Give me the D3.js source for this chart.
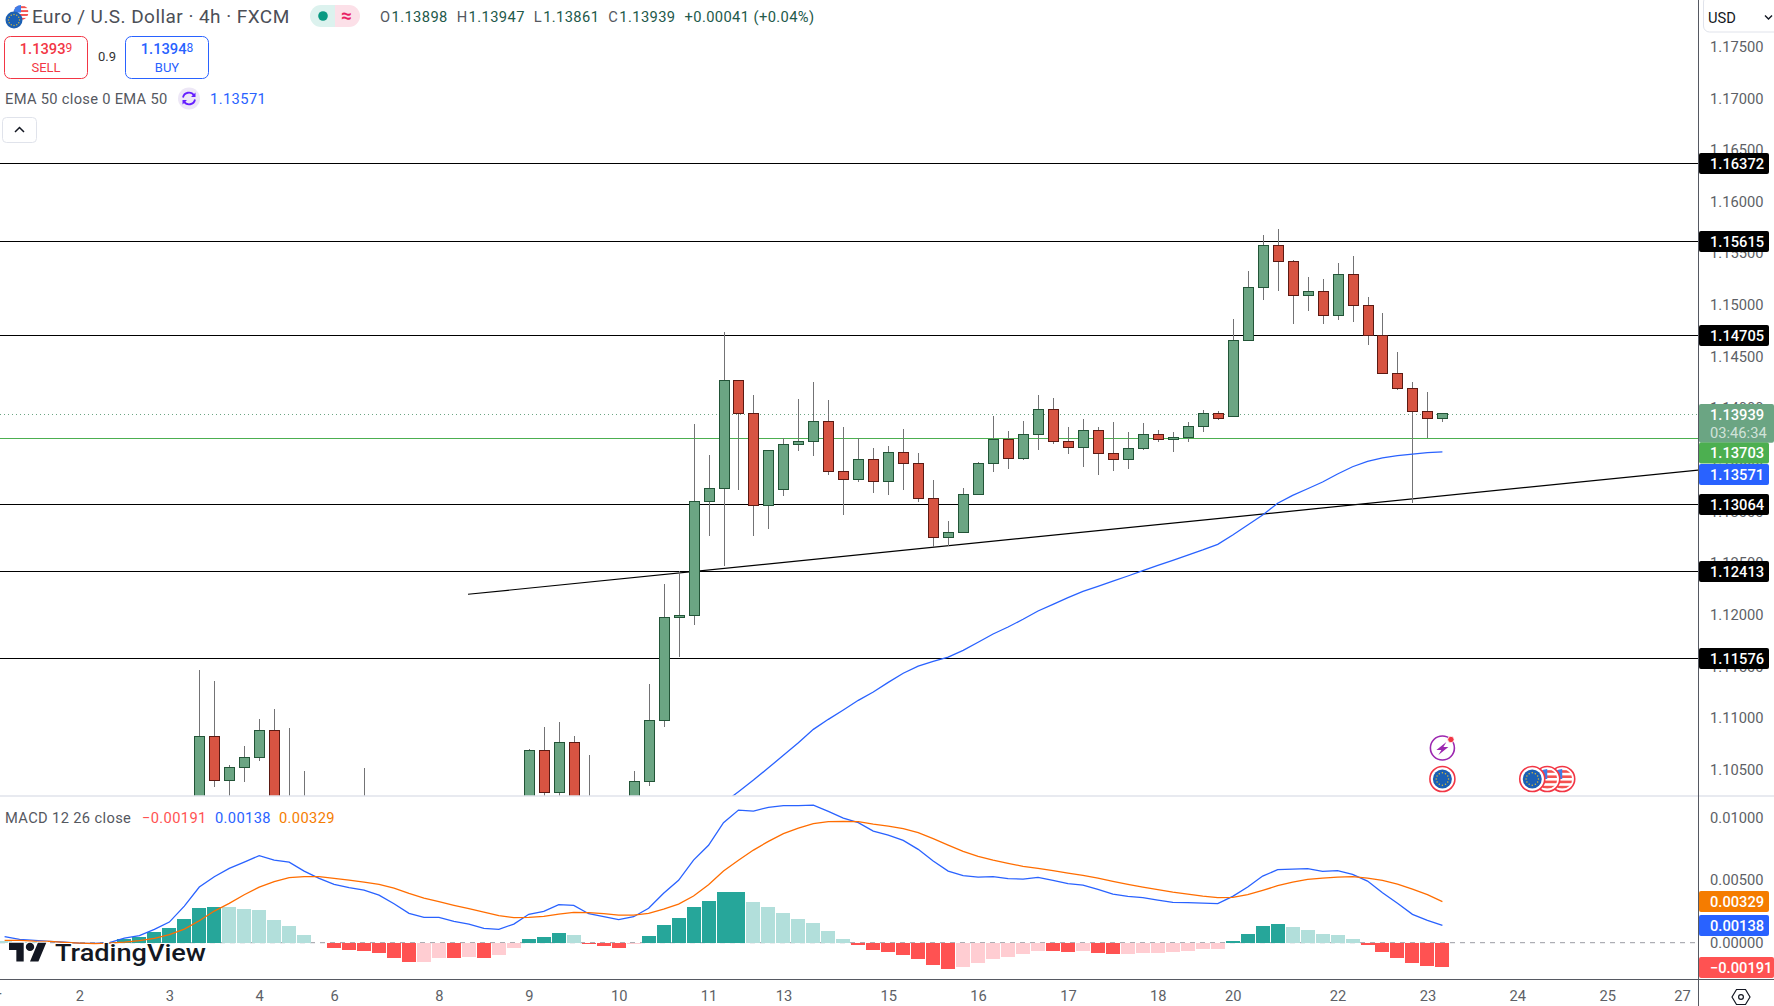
<!DOCTYPE html>
<html>
<head>
<meta charset="utf-8">
<title>Euro / U.S. Dollar 4h</title>
<script src="https://cdn.jsdelivr.net/npm/d3@7/dist/d3.min.js"></script>
<style>
  html, body { margin: 0; padding: 0; background: #fff; overflow: hidden; }
  svg { display: block; }
  text { font-family: Roboto, "Open Sans", sans-serif; }
</style>
</head>
<body>
<div id="chart"></div>
<script>
// ── Candles: bar number, then O/H/L/C per candle ─────────────────
// Bars 13-39 mostly sit below the pane, only their top ends show.
const candleBars = [13, 14, 15, 16, 17, 18, 19, 20, 24, 35, 36, 37, 38, 39, 42, 43, 44, 45, 46, 47, 48, 49, 50, 51, 52, 53, 54, 55, 56, 57, 58, 59, 60, 61, 62, 63, 64, 65, 66, 67, 68, 69, 70, 71, 72, 73, 74, 75, 76, 77, 78, 79, 80, 81, 82, 83, 84, 85, 86, 87, 88, 89, 90, 91, 92, 93, 94, 95, 96];
const opens = [1.09910, 1.10817, 1.10390, 1.10516, 1.10613, 1.10875, 1.10103, 1.10000, 1.09950, 1.10100, 1.10681, 1.10274, 1.10758, 1.10060, 1.10100, 1.10381, 1.10971, 1.11965, 1.11988, 1.13092, 1.13218, 1.14264, 1.13944, 1.13054, 1.13208, 1.13644, 1.13673, 1.13867, 1.13383, 1.13305, 1.13499, 1.13286, 1.13567, 1.13460, 1.13121, 1.12744, 1.12792, 1.13160, 1.13460, 1.13693, 1.13509, 1.13741, 1.13983, 1.13673, 1.13615, 1.13780, 1.13557, 1.13499, 1.13605, 1.13741, 1.13693, 1.13712, 1.13819, 1.13944, 1.13915, 1.14651, 1.15165, 1.15571, 1.15416, 1.15087, 1.15126, 1.14893, 1.15291, 1.14990, 1.14700, 1.14332, 1.14187, 1.13964, 1.13898];
const highs = [1.11459, 1.11352, 1.10536, 1.10723, 1.10984, 1.11081, 1.10897, 1.10480, 1.10509, 1.10694, 1.10907, 1.10955, 1.10819, 1.10635, 1.10480, 1.11323, 1.12291, 1.12417, 1.13841, 1.13541, 1.14732, 1.14264, 1.14122, 1.13586, 1.13702, 1.14083, 1.14248, 1.14073, 1.13812, 1.13702, 1.13608, 1.13628, 1.13792, 1.13560, 1.13299, 1.12901, 1.13221, 1.13470, 1.13918, 1.13773, 1.13870, 1.14122, 1.14093, 1.13812, 1.13889, 1.13812, 1.13860, 1.13763, 1.13848, 1.13783, 1.13763, 1.13860, 1.13976, 1.13967, 1.14858, 1.15322, 1.15671, 1.15729, 1.15429, 1.15264, 1.15245, 1.15400, 1.15468, 1.15071, 1.14916, 1.14538, 1.14248, 1.14151, 1.13947];
const lows = [1.09813, 1.10328, 1.10200, 1.10377, 1.10580, 1.10000, 1.09800, 1.09850, 1.09800, 1.10000, 1.10200, 1.10200, 1.09950, 1.09900, 1.10050, 1.10338, 1.10909, 1.11587, 1.11894, 1.12759, 1.12469, 1.13205, 1.12759, 1.12827, 1.13146, 1.13582, 1.13534, 1.13350, 1.12962, 1.13282, 1.13176, 1.13156, 1.13205, 1.13088, 1.12647, 1.12656, 1.12792, 1.13160, 1.13379, 1.13408, 1.13495, 1.13592, 1.13650, 1.13550, 1.13427, 1.13350, 1.13389, 1.13408, 1.13592, 1.13669, 1.13573, 1.13669, 1.13766, 1.13882, 1.13915, 1.14651, 1.15045, 1.15132, 1.14812, 1.14938, 1.14812, 1.14851, 1.14831, 1.14609, 1.14332, 1.14173, 1.13079, 1.13702, 1.13861];
const closes = [1.10817, 1.10390, 1.10516, 1.10613, 1.10875, 1.10103, 1.10000, 1.10060, 1.10050, 1.10681, 1.10274, 1.10758, 1.10060, 1.10100, 1.10381, 1.10971, 1.11969, 1.11988, 1.13092, 1.13218, 1.14264, 1.13944, 1.13054, 1.13586, 1.13644, 1.13673, 1.13867, 1.13383, 1.13305, 1.13499, 1.13286, 1.13567, 1.13460, 1.13121, 1.12744, 1.12792, 1.13160, 1.13460, 1.13693, 1.13509, 1.13741, 1.13983, 1.13673, 1.13615, 1.13780, 1.13557, 1.13499, 1.13605, 1.13741, 1.13693, 1.13712, 1.13819, 1.13944, 1.13896, 1.14651, 1.15165, 1.15571, 1.15416, 1.15087, 1.15126, 1.14893, 1.15291, 1.14990, 1.14700, 1.14332, 1.14187, 1.13964, 1.13896, 1.13939];

// ── EMA 50, from bar 48 to the last bar ──────────────────────────
const emaFirstBar = 48;
const emaValues = [1.10171, 1.10280, 1.10393, 1.10512, 1.10632, 1.10755, 1.10884, 1.10981, 1.11071, 1.11165, 1.11246, 1.11339, 1.11427, 1.11497, 1.11543, 1.11584, 1.11649, 1.11727, 1.11807, 1.11875, 1.11950, 1.12030, 1.12095, 1.12159, 1.12221, 1.12269, 1.12320, 1.12369, 1.12420, 1.12472, 1.12521, 1.12572, 1.12621, 1.12676, 1.12766, 1.12863, 1.12960, 1.13073, 1.13150, 1.13214, 1.13279, 1.13357, 1.13427, 1.13480, 1.13512, 1.13534, 1.13550, 1.13563, 1.13571];

// ── Drawn levels ─────────────────────────────────────────────────
const levelPrices = [1.16372, 1.15615, 1.14705, 1.13064, 1.12413, 1.11576];
const trendBars = [30.94, 113.07];
const trendPrices = [1.12192, 1.13395];
const lastPrice = 1.13939;
const highLine = 1.13703;
const emaLast = 1.13571;

// ── MACD pane, one value per bar from bar 0 ──────────────────────
const macdHist = [0.00012, 0.00008, 0.00004, -0.00002, -0.00012, -0.00006, -0.00010, 0.00004, 0.00032, 0.00048, 0.00083, 0.00115, 0.00187, 0.00275, 0.00283, 0.00283, 0.00267, 0.00259, 0.00179, 0.00131, 0.00059, -0.00005, -0.00045, -0.00061, -0.00069, -0.00085, -0.00125, -0.00157, -0.00157, -0.00124, -0.00125, -0.00117, -0.00125, -0.00101, -0.00045, 0.00027, 0.00043, 0.00075, 0.00059, -0.00013, -0.00029, -0.00045, -0.00013, 0.00051, 0.00139, 0.00195, 0.00283, 0.00331, 0.00403, 0.00404, 0.00323, 0.00283, 0.00235, 0.00187, 0.00155, 0.00091, 0.00027, -0.00021, -0.00061, -0.00077, -0.00101, -0.00133, -0.00181, -0.00213, -0.00197, -0.00165, -0.00133, -0.00117, -0.00093, -0.00069, -0.00070, -0.00077, -0.00069, -0.00085, -0.00093, -0.00093, -0.00085, -0.00085, -0.00077, -0.00069, -0.00053, -0.00053, 0.00011, 0.00067, 0.00131, 0.00147, 0.00123, 0.00099, 0.00067, 0.00059, 0.00027, -0.00021, -0.00077, -0.00125, -0.00165, -0.00189, -0.00191];
const macdLine = [0.00048, 0.00027, 0.00019, 0.00011, 0.00005, -0.00003, -0.00005, 0, 0.00037, 0.00056, 0.00107, 0.00165, 0.00293, 0.00445, 0.00528, 0.00595, 0.00645, 0.00696, 0.00661, 0.00645, 0.00573, 0.00515, 0.00467, 0.00440, 0.00421, 0.00381, 0.00312, 0.00235, 0.00203, 0.00203, 0.00171, 0.00149, 0.00115, 0.00107, 0.00149, 0.00227, 0.00251, 0.00304, 0.00299, 0.00232, 0.00208, 0.00184, 0.00208, 0.00275, 0.00395, 0.00499, 0.00661, 0.00779, 0.00960, 0.01061, 0.01053, 0.01083, 0.01096, 0.01096, 0.01101, 0.01051, 0.00997, 0.00960, 0.00893, 0.00861, 0.00819, 0.00747, 0.00653, 0.00573, 0.00536, 0.00525, 0.00528, 0.00512, 0.00509, 0.00523, 0.00499, 0.00472, 0.00461, 0.00427, 0.00389, 0.00371, 0.00360, 0.00341, 0.00323, 0.00320, 0.00317, 0.00312, 0.00371, 0.00445, 0.00533, 0.00584, 0.00589, 0.00592, 0.00571, 0.00576, 0.00547, 0.00493, 0.00400, 0.00315, 0.00227, 0.00179, 0.00138];
const signalLine = [0.00019, 0.00019, 0.00013, 0.00011, 0.00003, -0.00003, -0.00008, -0.00003, 0.00005, 0.00016, 0.00035, 0.00064, 0.00109, 0.00176, 0.00253, 0.00315, 0.00384, 0.00445, 0.00488, 0.00520, 0.00528, 0.00528, 0.00515, 0.00501, 0.00485, 0.00467, 0.00437, 0.00395, 0.00357, 0.00328, 0.00299, 0.00272, 0.00245, 0.00216, 0.00200, 0.00203, 0.00211, 0.00229, 0.00243, 0.00240, 0.00232, 0.00221, 0.00221, 0.00235, 0.00269, 0.00309, 0.00373, 0.00464, 0.00573, 0.00659, 0.00741, 0.00811, 0.00872, 0.00917, 0.00952, 0.00968, 0.00971, 0.00968, 0.00949, 0.00933, 0.00912, 0.00880, 0.00832, 0.00781, 0.00731, 0.00691, 0.00661, 0.00635, 0.00611, 0.00595, 0.00576, 0.00557, 0.00539, 0.00517, 0.00491, 0.00467, 0.00445, 0.00424, 0.00405, 0.00389, 0.00373, 0.00360, 0.00363, 0.00384, 0.00419, 0.00456, 0.00485, 0.00507, 0.00517, 0.00525, 0.00528, 0.00517, 0.00499, 0.00469, 0.00429, 0.00384, 0.00329];

// ── Axis ticks ───────────────────────────────────────────────────
const priceTicks = [1.105, 1.11, 1.115, 1.12, 1.125, 1.13, 1.135, 1.14, 1.145, 1.15, 1.155, 1.16, 1.165, 1.17, 1.175];
const macdTicks = [0, 0.005, 0.01];
const timeTickBars = [-1, 5, 11, 17, 22, 29, 35, 41, 47, 52, 59, 65, 71, 77, 82, 89, 95, 101, 107, 112];
const timeTickLabels = ['Apr', '2', '3', '4', '6', '8', '9', '10', '11', '13', '15', '16', '17', '18', '20', '22', '23', '24', '25', '27'];

// ── Event markers (bar numbers) ──────────────────────────────────
const usEventBars = [104, 103];
const euEventBars = [96, 102];
const flashEventBar = 96;

// ── Colours ──────────────────────────────────────────────────────
const C = {
  up: '#6ba583', upBorder: '#225437',
  down: '#d75442', downBorder: '#5b1a13',
  wick: '#737375',
  blue: '#2962ff', orange: '#ff6d00', red: '#f23645',
  macdRed: '#ff5252', macdRedPale: '#ffcdd2', teal: '#26a69a', tealPale: '#b2dfdb',
  axisText: '#5d5f66', legendText: '#55585f', line: '#565962', pane: '#e0e3eb',
};

// ── Layout ───────────────────────────────────────────────────────
const W = 1774, H = 1006;
const AXIS_X = 1698, PANE_BOTTOM = 796, MACD_BOTTOM = 979;

const svg = d3.select('#chart').append('svg')
  .attr('width', W).attr('height', H).attr('viewBox', `0 0 ${W} ${H}`);
svg.append('rect').attr('width', W).attr('height', H).attr('fill', '#fff');

const defs = svg.append('defs');
defs.append('clipPath').attr('id', 'price-clip').append('rect')
  .attr('width', AXIS_X).attr('height', PANE_BOTTOM);
defs.append('clipPath').attr('id', 'macd-clip').append('rect')
  .attr('y', PANE_BOTTOM).attr('width', AXIS_X).attr('height', MACD_BOTTOM - PANE_BOTTOM);

// Scales
const x = d3.scaleLinear().domain([0, 96]).range([4.6, 1442.4]);
const y = d3.scaleLinear().domain([1.15, 1.105]).range([304.3, 769]);
const yM = d3.scaleLinear().domain([0, 0.01]).range([942.7, 817.7]);

// ── Level lines, trend line, price lines (behind the candles) ────
const pricePane = svg.append('g').attr('clip-path', 'url(#price-clip)');

pricePane.selectAll('line.level').data(levelPrices).join('line')
  .attr('class', 'level')
  .attr('x1', 0).attr('x2', AXIS_X)
  .attr('y1', d => Math.round(y(d)) + 0.5).attr('y2', d => Math.round(y(d)) + 0.5)
  .attr('stroke', '#000').attr('stroke-width', 1.2);

pricePane.append('line')
  .attr('x1', x(trendBars[0])).attr('y1', y(trendPrices[0]))
  .attr('x2', x(trendBars[1])).attr('y2', y(trendPrices[1]))
  .attr('stroke', '#000').attr('stroke-width', 1.2);

pricePane.append('line')
  .attr('x1', 0).attr('x2', AXIS_X)
  .attr('y1', Math.round(y(lastPrice)) + 0.5).attr('y2', Math.round(y(lastPrice)) + 0.5)
  .attr('stroke', C.up).attr('stroke-width', 1).attr('stroke-dasharray', '1 3');

pricePane.append('line')
  .attr('x1', 0).attr('x2', AXIS_X)
  .attr('y1', Math.round(y(highLine)) + 0.5).attr('y2', Math.round(y(highLine)) + 0.5)
  .attr('stroke', '#4caf50').attr('stroke-width', 1);

// ── Candles ──────────────────────────────────────────────────────
const candles = pricePane.selectAll('g.candle').data(d3.range(candleBars.length)).join('g')
  .attr('class', 'candle')
  .attr('shape-rendering', 'crispEdges');

candles.append('line')
  .attr('x1', d => Math.round(x(candleBars[d])) + 0.5)
  .attr('x2', d => Math.round(x(candleBars[d])) + 0.5)
  .attr('y1', d => y(highs[d])).attr('y2', d => y(lows[d]))
  .attr('stroke', C.wick).attr('stroke-width', 1);

candles.append('rect')
  .attr('x', d => Math.round(x(candleBars[d])) - 4.5)
  .attr('width', 10)
  .attr('y', d => y(Math.max(opens[d], closes[d])))
  .attr('height', d => Math.abs(y(opens[d]) - y(closes[d])))
  .attr('fill', d => closes[d] >= opens[d] ? C.up : C.down)
  .attr('stroke', d => closes[d] >= opens[d] ? C.upBorder : C.downBorder)
  .attr('stroke-width', 1);

// ── EMA ──────────────────────────────────────────────────────────
pricePane.append('path')
  .attr('fill', 'none').attr('stroke', C.blue).attr('stroke-width', 1.3)
  .attr('d', d3.line().x((d, i) => x(emaFirstBar + i)).y(d => y(d))(emaValues));

// ── MACD pane ────────────────────────────────────────────────────
const macdPane = svg.append('g').attr('clip-path', 'url(#macd-clip)');

macdPane.append('line')
  .attr('x1', 0).attr('x2', AXIS_X)
  .attr('y1', yM(0)).attr('y2', yM(0))
  .attr('stroke', '#9a9ca3').attr('stroke-width', 1).attr('stroke-dasharray', '5 5');

function histColor(d, i) {
  const prev = i > 0 ? macdHist[i - 1] : d;
  if (d >= 0) return d > prev ? C.teal : C.tealPale;
  return d < prev ? C.macdRed : C.macdRedPale;
}

macdPane.selectAll('rect.hist').data(macdHist).join('rect')
  .attr('class', 'hist')
  .attr('shape-rendering', 'crispEdges')
  .attr('x', (d, i) => Math.round(x(i)) - 7)
  .attr('width', 14)
  .attr('y', d => Math.min(yM(d), yM(0)))
  .attr('height', d => Math.abs(yM(d) - yM(0)))
  .attr('fill', histColor);

const macdPath = d3.line().x((d, i) => x(i)).y(d => yM(d));
macdPane.append('path').attr('fill', 'none').attr('stroke', C.blue).attr('stroke-width', 1.3)
  .attr('d', macdPath(macdLine));
macdPane.append('path').attr('fill', 'none').attr('stroke', C.orange).attr('stroke-width', 1.3)
  .attr('d', macdPath(signalLine));

// ── Event markers ────────────────────────────────────────────────
function ring(g, cx, cy) {
  g.append('circle').attr('cx', cx).attr('cy', cy).attr('r', 12.5)
    .attr('fill', '#fff').attr('stroke', C.red).attr('stroke-width', 1.6);
}

function euFlag(g, cx, cy, r) {
  g.append('circle').attr('cx', cx).attr('cy', cy).attr('r', r).attr('fill', '#1a5fb4');
  d3.range(12).forEach(k => {
    const a = k * Math.PI / 6;
    g.append('circle')
      .attr('cx', cx + Math.cos(a) * r * 0.65).attr('cy', cy + Math.sin(a) * r * 0.65)
      .attr('r', r * 0.08).attr('fill', '#d8b93a');
  });
}

function usFlag(g, cx, cy, r) {
  const id = `us-${Math.round(cx)}-${Math.round(cy)}`;
  defs.append('clipPath').attr('id', id).append('circle').attr('cx', cx).attr('cy', cy).attr('r', r);
  const f = g.append('g').attr('clip-path', `url(#${id})`);
  f.append('rect').attr('x', cx - r).attr('y', cy - r).attr('width', 2 * r).attr('height', 2 * r).attr('fill', '#fff');
  d3.range(4).forEach(k => {
    f.append('rect').attr('x', cx - r).attr('y', cy - r + 1.2 + k * r * 0.52)
      .attr('width', 2 * r).attr('height', r * 0.26).attr('fill', '#f4514f');
  });
  f.append('rect').attr('x', cx - r).attr('y', cy - r).attr('width', r).attr('height', r).attr('fill', '#3f7de8');
}

const events = svg.append('g');
const eventY = 779;
usEventBars.forEach(b => { ring(events, x(b), eventY); usFlag(events, x(b), eventY, 10); });
euEventBars.forEach(b => { ring(events, x(b), eventY); euFlag(events, x(b), eventY, 9.5); });

const flashX = x(flashEventBar), flashY = 748;
events.append('circle').attr('cx', flashX).attr('cy', flashY).attr('r', 12)
  .attr('fill', '#fff').attr('stroke', '#9c27b0').attr('stroke-width', 1.6);
events.append('path')
  .attr('transform', `translate(${flashX},${flashY})`)
  .attr('d', 'M4 -6 L-6 2 L-1 2 L-4 7 L6 -1 L1 -1 Z')
  .attr('fill', '#9c27b0');
events.append('circle').attr('cx', flashX + 8.5).attr('cy', flashY - 8.5).attr('r', 3.2)
  .attr('fill', C.red).attr('stroke', '#fff').attr('stroke-width', 0.8);

// ── Pane separator and axis frame ────────────────────────────────
svg.append('line').attr('x1', 0).attr('x2', W).attr('y1', PANE_BOTTOM).attr('y2', PANE_BOTTOM)
  .attr('stroke', C.pane).attr('stroke-width', 1.5);
svg.append('line').attr('x1', 0).attr('x2', W).attr('y1', MACD_BOTTOM + 0.5).attr('y2', MACD_BOTTOM + 0.5)
  .attr('stroke', C.line).attr('stroke-width', 1);
svg.append('line').attr('x1', AXIS_X + 0.5).attr('x2', AXIS_X + 0.5).attr('y1', 0).attr('y2', H)
  .attr('stroke', C.line).attr('stroke-width', 1);

// ── Axes ─────────────────────────────────────────────────────────
function styleAxis(g) {
  g.select('.domain').remove();
  g.selectAll('.tick line').remove();
  g.selectAll('text')
    .attr('font-family', 'Roboto, sans-serif')
    .attr('font-size', 14.7).attr('fill', C.axisText);
}

svg.append('g').attr('transform', `translate(${AXIS_X},0.6)`)
  .call(d3.axisRight(y).tickValues(priceTicks).tickFormat(d3.format('.5f')).tickSize(0).tickPadding(12))
  .call(styleAxis);

svg.append('g').attr('transform', `translate(${AXIS_X},0)`)
  .call(d3.axisRight(yM).tickValues(macdTicks).tickFormat(d3.format('.5f')).tickSize(0).tickPadding(12))
  .call(styleAxis);

svg.append('g').attr('transform', `translate(0,${MACD_BOTTOM + 6})`)
  .call(d3.axisBottom(x).tickValues(timeTickBars)
    .tickFormat(d => timeTickLabels[timeTickBars.indexOf(d)]).tickSize(0).tickPadding(6))
  .call(styleAxis);

// ── Price tags ───────────────────────────────────────────────────
function tag(cy, label, fill, opts = {}) {
  const h = opts.h || 21, w = opts.w || 70;
  svg.append('rect').attr('x', AXIS_X + 1).attr('y', cy - h / 2).attr('width', w).attr('height', h)
    .attr('rx', 2).attr('fill', fill);
  svg.append('text').attr('x', AXIS_X + 12).attr('y', cy).attr('dy', '0.35em')
    .attr('font-size', 14.7).attr('font-weight', 500).attr('fill', '#fff').text(label);
}

levelPrices.forEach(p => tag(Math.round(y(p)) + 0.5, d3.format('.5f')(p), '#000'));

// last price tag holds the price and the countdown
svg.append('rect').attr('x', AXIS_X + 1).attr('y', 404).attr('width', 75).attr('height', 38.7)
  .attr('rx', 2).attr('fill', C.up);
svg.append('text').attr('x', AXIS_X + 12).attr('y', y(lastPrice) + 1).attr('dy', '0.35em')
  .attr('font-size', 14.7).attr('font-weight', 500).attr('fill', '#fff').text(d3.format('.5f')(lastPrice));
svg.append('text').attr('x', AXIS_X + 12).attr('y', 433).attr('dy', '0.35em')
  .attr('font-size', 14.7).attr('fill', '#fff').attr('fill-opacity', 0.7).text('03:46:34');

tag(453, d3.format('.5f')(highLine), '#4caf50');
tag(474.5, d3.format('.5f')(emaLast), C.blue);

tag(yM(signalLine[96]), d3.format('.5f')(signalLine[96]), '#f57c00');
tag(yM(macdLine[96]), d3.format('.5f')(macdLine[96]), C.blue);
tag(yM(macdHist[96]) + 0.8, '\u22120.00191', C.macdRed, { w: 75 });

// ── Header legend ────────────────────────────────────────────────
const head = svg.append('g');

usFlag(head, 21, 12.5, 7.5);
euFlag(head, 14, 20, 8.5);

head.append('text').attr('x', 32).attr('y', 23)
  .attr('font-size', 19).attr('letter-spacing', 0.45).attr('fill', '#4c4f57')
  .text('Euro / U.S. Dollar \u00b7 4h \u00b7 FXCM');

// market status pill
head.append('path').attr('d', 'M321 5 H335 V27 H321 A11 11 0 0 1 321 5 Z').attr('fill', '#dcf2ee');
head.append('path').attr('d', 'M335 5 H349 A11 11 0 0 1 349 27 H335 Z').attr('fill', '#fce0e8');
head.append('circle').attr('cx', 323).attr('cy', 16).attr('r', 4.8).attr('fill', '#089981');
head.append('text').attr('x', 346.5).attr('y', 22).attr('text-anchor', 'middle')
  .attr('font-size', 19).attr('font-weight', 700).attr('fill', '#e91e63').text('\u2248');

// OHLC readout
const ohlcLabels = ['O', 'H', 'L', 'C'];
const ohlcValues = ['1.13898', '1.13947', '1.13861', '1.13939'];
const ohlc = head.append('text').attr('x', 380).attr('y', 21.5).attr('font-size', 14.7).attr('letter-spacing', 0.4);
ohlcLabels.forEach((l, i) => {
  ohlc.append('tspan').attr('dx', i ? 9 : 0).attr('fill', '#55585f').text(l);
  ohlc.append('tspan').attr('dx', 1).attr('fill', '#22594a').text(ohlcValues[i]);
});
ohlc.append('tspan').attr('dx', 9).attr('fill', '#22594a').text('+0.00041 (+0.04%)');

// sell / buy boxes
function tradeBox(bx, w, price, tail, label, color) {
  head.append('rect').attr('x', bx + 0.5).attr('y', 36.5).attr('width', w).attr('height', 42)
    .attr('rx', 6).attr('fill', '#fff').attr('stroke', color).attr('stroke-width', 1);
  const t = head.append('text').attr('x', bx + w / 2 + 0.5).attr('y', 54).attr('text-anchor', 'middle')
    .attr('font-size', 14.7).attr('font-weight', 500).attr('fill', color);
  t.append('tspan').text(price);
  t.append('tspan').attr('dy', -2).attr('font-size', 12).attr('font-weight', 400).text(tail);
  head.append('text').attr('x', bx + w / 2 + 0.5).attr('y', 72).attr('text-anchor', 'middle')
    .attr('font-size', 13).attr('fill', color).text(label);
}
tradeBox(4, 83, '1.1393', '9', 'SELL', C.red);
tradeBox(125, 83, '1.1394', '8', 'BUY', C.blue);
head.append('text').attr('x', 107).attr('y', 61).attr('text-anchor', 'middle')
  .attr('font-size', 13).attr('fill', '#333').text('0.9');

// EMA legend
head.append('text').attr('x', 5).attr('y', 104).attr('letter-spacing', 0.3)
  .attr('font-size', 14.7).attr('fill', C.legendText).text('EMA 50 close 0 EMA 50');
head.append('circle').attr('cx', 189).attr('cy', 98.5).attr('r', 11).attr('fill', '#ede7f6');
head.append('path')
  .attr('transform', 'translate(189,98.5)')
  .attr('d', 'M-6 -1 A6 6 0 0 1 5 -3 M6 1 A6 6 0 0 1 -5 3')
  .attr('fill', 'none').attr('stroke', '#651fff').attr('stroke-width', 1.8);
head.append('path').attr('transform', 'translate(189,98.5)')
  .attr('d', 'M6.5 -6 V-1.5 H2 Z M-6.5 6 V1.5 H-2 Z').attr('fill', '#651fff');
head.append('text').attr('x', 210).attr('y', 104).attr('letter-spacing', 0.4)
  .attr('font-size', 14.7).attr('fill', C.blue).text('1.13571');

// collapse button
head.append('rect').attr('x', 2.5).attr('y', 117.5).attr('width', 34).attr('height', 25)
  .attr('rx', 4).attr('fill', '#fff').attr('stroke', C.pane);
head.append('path').attr('d', 'M15 132 L19.5 127.5 L24 132')
  .attr('fill', 'none').attr('stroke', '#131722').attr('stroke-width', 1.5);

// MACD legend
const macdLegend = head.append('text').attr('x', 5).attr('y', 822.5).attr('font-size', 14.7).attr('letter-spacing', 0.35);
macdLegend.append('tspan').attr('fill', C.legendText).text('MACD 12 26 close');
macdLegend.append('tspan').attr('x', 142).attr('fill', C.macdRed).text('\u22120.00191');
macdLegend.append('tspan').attr('x', 215).attr('fill', C.blue).text('0.00138');
macdLegend.append('tspan').attr('x', 279).attr('fill', '#f57c00').text('0.00329');

// ── Currency selector and settings gear ──────────────────────────
head.append('rect').attr('x', 1703.5).attr('y', -4).attr('width', 80).attr('height', 36)
  .attr('rx', 6).attr('fill', '#fff').attr('stroke', C.pane);
head.append('text').attr('x', 1708).attr('y', 22.5).attr('font-size', 14.7).attr('fill', '#131722').text('USD');
head.append('path').attr('d', 'M1765 15.5 L1768.5 19 L1772 15.5')
  .attr('fill', 'none').attr('stroke', '#131722').attr('stroke-width', 1.4);

head.append('path').attr('transform', 'translate(1741,997)')
  .attr('d', 'M-9 0 L-4.5 -7.5 H4.5 L9 0 L4.5 7.5 H-4.5 Z')
  .attr('fill', 'none').attr('stroke', '#131722').attr('stroke-width', 1.2);
head.append('circle').attr('cx', 1741).attr('cy', 997).attr('r', 2.4)
  .attr('fill', 'none').attr('stroke', '#131722').attr('stroke-width', 1.2);

// ── TradingView mark ─────────────────────────────────────────────
const mark = svg.append('g');
mark.append('path')
  .attr('transform', 'translate(9,938.5) scale(1.05)')
  .attr('d', 'M14 22H7V11H0V4h14v18zM28 22h-8l7.5-18h8L28 22z')
  .attr('fill', '#131722').attr('stroke', '#fff').attr('stroke-width', 2).attr('paint-order', 'stroke');
mark.append('circle').attr('cx', 9 + 20 * 1.05).attr('cy', 938.5 + 8 * 1.05).attr('r', 4.2)
  .attr('fill', '#131722').attr('stroke', '#fff').attr('stroke-width', 1.5).attr('paint-order', 'stroke');
mark.append('text').attr('x', 55).attr('y', 960.7)
  .attr('font-family', 'Inter, Roboto, sans-serif')
  .attr('font-size', 24).attr('font-weight', 500).attr('fill', '#131722')
  .attr('textLength', 151).attr('lengthAdjust', 'spacingAndGlyphs')
  .attr('stroke', '#fff').attr('stroke-width', 2).attr('paint-order', 'stroke')
  .text('TradingView');
</script>
</body>
</html>
